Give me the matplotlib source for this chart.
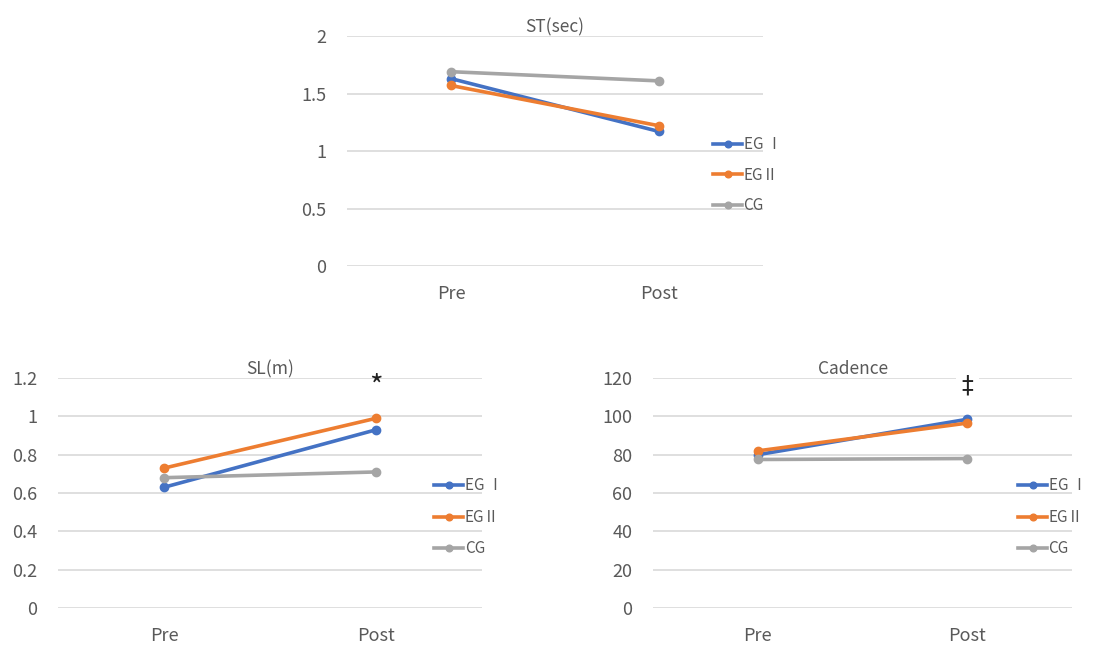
import matplotlib
matplotlib.use("Agg")
import matplotlib.pyplot as plt

plt.rcParams['font.family'] = ['Noto Sans CJK KR', 'DejaVu Sans']

# data
phases = ["Pre", "Post"]
groups = ["EG Ⅰ", "EGⅡ", "CG"]
colors = ["#4472C4", "#ED7D31", "#A5A5A5"]

st_sec = {"EG Ⅰ": [1.63, 1.17], "EGⅡ": [1.57, 1.22], "CG": [1.69, 1.61]}
sl_m = {"EG Ⅰ": [0.63, 0.93], "EGⅡ": [0.73, 0.99], "CG": [0.68, 0.71]}
cadence = {"EG Ⅰ": [80, 98.5], "EGⅡ": [82, 96.5], "CG": [77.5, 78]}

st_ticks = [0, 0.5, 1, 1.5, 2]
sl_ticks = [0, 0.2, 0.4, 0.6, 0.8, 1, 1.2]
cad_ticks = [0, 20, 40, 60, 80, 100, 120]

txt = "#595959"
grid = "#D9D9D9"

fig = plt.figure(figsize=(10.97, 6.46), dpi=100)

panels = [
    # axes rect, data, ticks, title, title x, legend anchor, legend spacing
    ([0.3163, 0.5882, 0.3792, 0.356], st_sec, st_ticks, "ST(sec)", 0.5, (0.650, 0.729), 0.88),
    ([0.0529, 0.0588, 0.3865, 0.356], sl_m, sl_ticks, "SL(m)", 0.5, (0.396, 0.199), 0.95),
    ([0.5953, 0.0588, 0.3820, 0.356], cadence, cad_ticks, "Cadence", 0.477, (0.928, 0.199), 0.95),
]

axes = []
for rect, data, ticks, title, tx, anchor, spacing in panels:
    ax = fig.add_axes(rect)
    x = range(len(phases))
    for g, c in zip(groups, colors):
        ax.plot(x, data[g], color=c, lw=2.6, marker='o', markersize=6, label=g)
    ax.set_xlim(-0.5, 1.5)
    ax.set_ylim(ticks[0], ticks[-1])
    ax.set_yticks(ticks)
    ax.set_yticklabels([f"{t:g}" for t in ticks])
    ax.set_xticks(list(x))
    ax.set_xticklabels(phases)
    ax.tick_params(length=0, labelcolor=txt, labelsize=13)
    ax.tick_params(axis='y', pad=15)
    ax.tick_params(axis='x', pad=14)
    for s in ax.spines.values():
        s.set_visible(False)
    ax.grid(axis='y', color=grid, lw=1.2)
    ax.set_axisbelow(True)
    ax.set_title(title, color=txt, fontsize=12.5, pad=2, x=tx)
    fig.legend(handles=ax.get_lines(), loc='center left', bbox_to_anchor=anchor,
               frameon=False, fontsize=11, labelcolor=txt, handlelength=1.9,
               handletextpad=0.1, borderpad=0, borderaxespad=0, labelspacing=spacing,
               markerscale=0.8)
    axes.append(ax)

# significance marks
axes[1].text(1, 1.15, "*", ha='center', va='center', fontsize=21, color="#222222")
axes[2].text(1, 116, "‡", ha='center', va='center', fontsize=17, color="#222222",
             family=['DejaVu Sans'],
             bbox=dict(facecolor='white', edgecolor='none', pad=4))

fig.savefig("out.png", dpi=100)
